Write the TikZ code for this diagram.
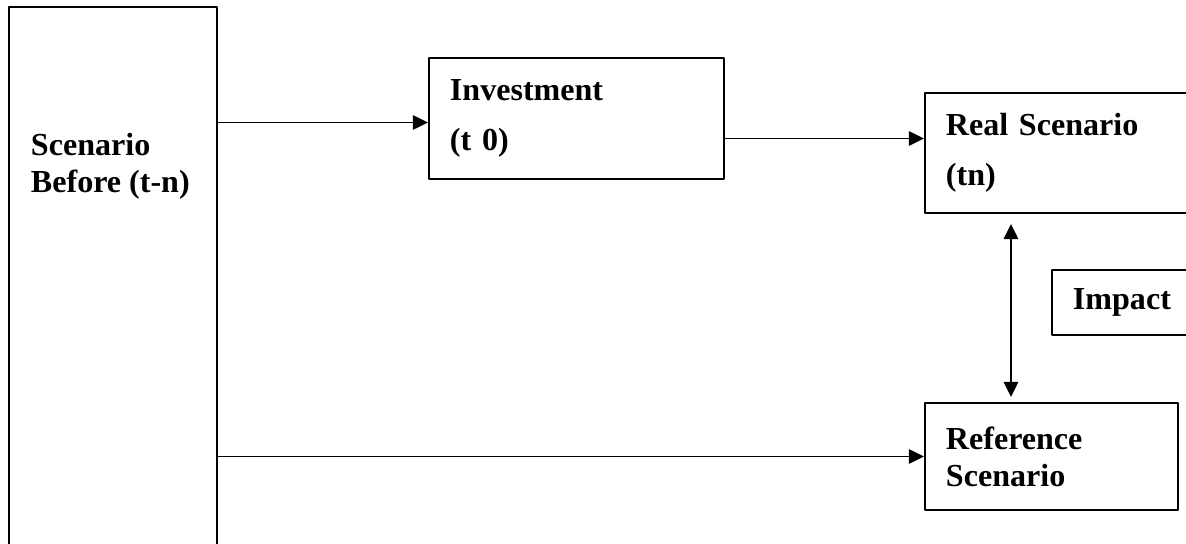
\documentclass[tikz,border=0pt]{standalone}
\usepackage{fontspec}
\setmainfont{Liberation Serif}
\usetikzlibrary{arrows.meta}
\tikzset{
	box/.style={draw, rectangle, align=left, inner xsep=0.525cm, inner ysep=0pt,
		font=\bfseries\fontsize{22.8pt}{26.3pt}\selectfont},
	txt/.style={align=left, inner sep=0pt, font=\bfseries\fontsize{22.8pt}{26.3pt}\selectfont}
}
\begin{document}
\begin{tikzpicture}[x=0.025cm, y=-0.025cm, line width=1.4pt, line join=round, >={Triangle[length=0.38cm,width=0.36cm]}]
	\useasboundingbox (0,0) rectangle (1186,544);
	\clip (0,0) rectangle (1186,544);
	% boxes
	\node[box, minimum width=5.2cm, minimum height=13.825cm] (before) at (113,283.5) {};
	\node[txt, anchor=west] (beforetxt) at (30,166) {Scenario\\Before (t-n)};
	\node[box, text width=6.325cm, minimum height=3.025cm] (invest) at (576.5,118.5) {Investment\\[9.3pt](t 0)};
	\node[box, text width=5.825cm, minimum height=3cm] (real) at (1062.5,153) {Real Scenario\\[9.3pt](tn)};
	\node[box, text width=2.65cm, minimum height=1.625cm] (impact) at (1126,302.5) {Impact};
	\node[box, text width=5.275cm, minimum height=2.675cm] (ref) at (1051.5,456.5) {Reference\\Scenario};
	% arrows
	\coordinate (inv in) at ([yshift=-0.1cm]invest.west);
	\coordinate (inv out) at ([yshift=-0.5cm]invest.east);
	\coordinate (imp top) at ([shift={(87,10)}]real.south west);
	\draw[->] (before.east |- inv in) -- (inv in);
	\draw[->] (inv out) -- (inv out -| real.west);
	\draw[->] (before.east |- ref.west) -- (ref.west);
	\draw[<->, shorten >=0.125cm] (imp top) -- (imp top |- ref.north);
\end{tikzpicture}
\end{document}
